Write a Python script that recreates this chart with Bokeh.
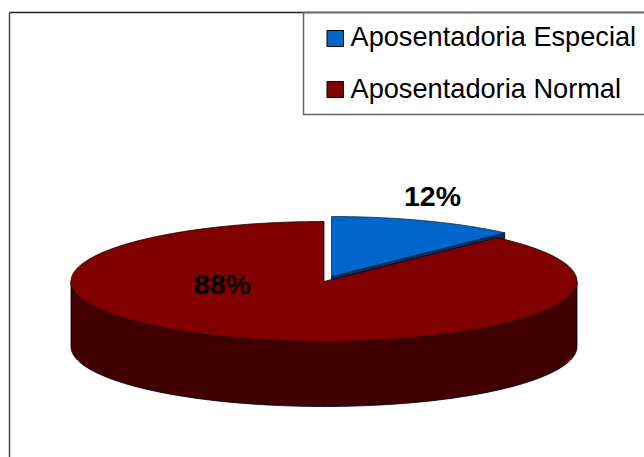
import numpy as np
from bokeh.core.properties import value
from bokeh.embed import file_html
from bokeh.models import Range1d
from bokeh.plotting import figure
from bokeh.resources import INLINE

categories = ["Aposentadoria Especial", "Aposentadoria Normal"]
shares = [12, 88]
labels = ["12%", "88%"]
colors = ["#0066CC", "#800000"]
side_colors = ["#003366", "#400000"]

W, H = 644, 457
RX, RY, DEPTH = 253, 60, 65
CX, CY = 323.5, 281
EXPLODE = (7.5, -5)

p = figure(width=W, height=H, output_backend="svg", toolbar_location=None,
           x_range=Range1d(0, W), y_range=Range1d(H, 0),
           min_border=0, outline_line_color=None)
p.axis.visible = False
p.grid.visible = False
p.background_fill_color = "white"


def arc(t0, t1, cx, cy, n=120):
    t = np.radians(np.linspace(t0, t1, n))
    return cx + RX * np.sin(t), cy - RY * np.cos(t)


end = 360 * shares[0] / sum(shares)

# chart frame
p.line([9, 9], [H, 12], line_color="#444444", line_width=1.5)
p.line([9, W], [12, 12], line_color="#222222", line_width=1.5)

# blue slice
bx, by = CX + EXPLODE[0], CY + EXPLODE[1]
ex, ey = arc(end, end, bx, by, 1)
p.patch([bx, ex[0], ex[0], bx], [by, ey[0], ey[0] + DEPTH, by + DEPTH],
        fill_color=side_colors[0], line_color="black", line_width=0.8)
xs, ys = arc(0, end, bx, by)
p.patch(np.r_[bx, xs], np.r_[by, ys], fill_color=colors[0],
        line_color="#0a2a4a", line_width=0.8)

# red slice side then top
xs, ys = arc(90, 270, CX, CY)
p.patch(np.r_[xs, xs[::-1]], np.r_[ys, ys[::-1] + DEPTH],
        fill_color=side_colors[1], line_color="black", line_width=0.8)
xs, ys = arc(end, 360, CX, CY, 300)
p.patch(np.r_[CX, xs], np.r_[CY, ys], fill_color=colors[1],
        line_color="#200000", line_width=0.8)

# percentage labels
p.text([432, 222], [195, 283], text=labels, text_font=value("Liberation Sans"),
       text_font_style="bold", text_font_size="28.5px", text_color="black",
       text_align="center", text_baseline="middle")

# legend
p.line([W, 303, 303, W], [12, 12, 114, 114], line_color="#666666", line_width=1.5)
p.quad(left=[326.5, 326.5], right=[343, 343], top=[30, 81], bottom=[46, 97],
       fill_color=colors, line_color="black", line_width=1)
p.text([350, 350], [36, 88], text=categories, text_font=value("Liberation Sans"),
       text_font_size="27.2px", text_color="black", text_baseline="middle")

open("out.html", "w").write(file_html(p, INLINE))
